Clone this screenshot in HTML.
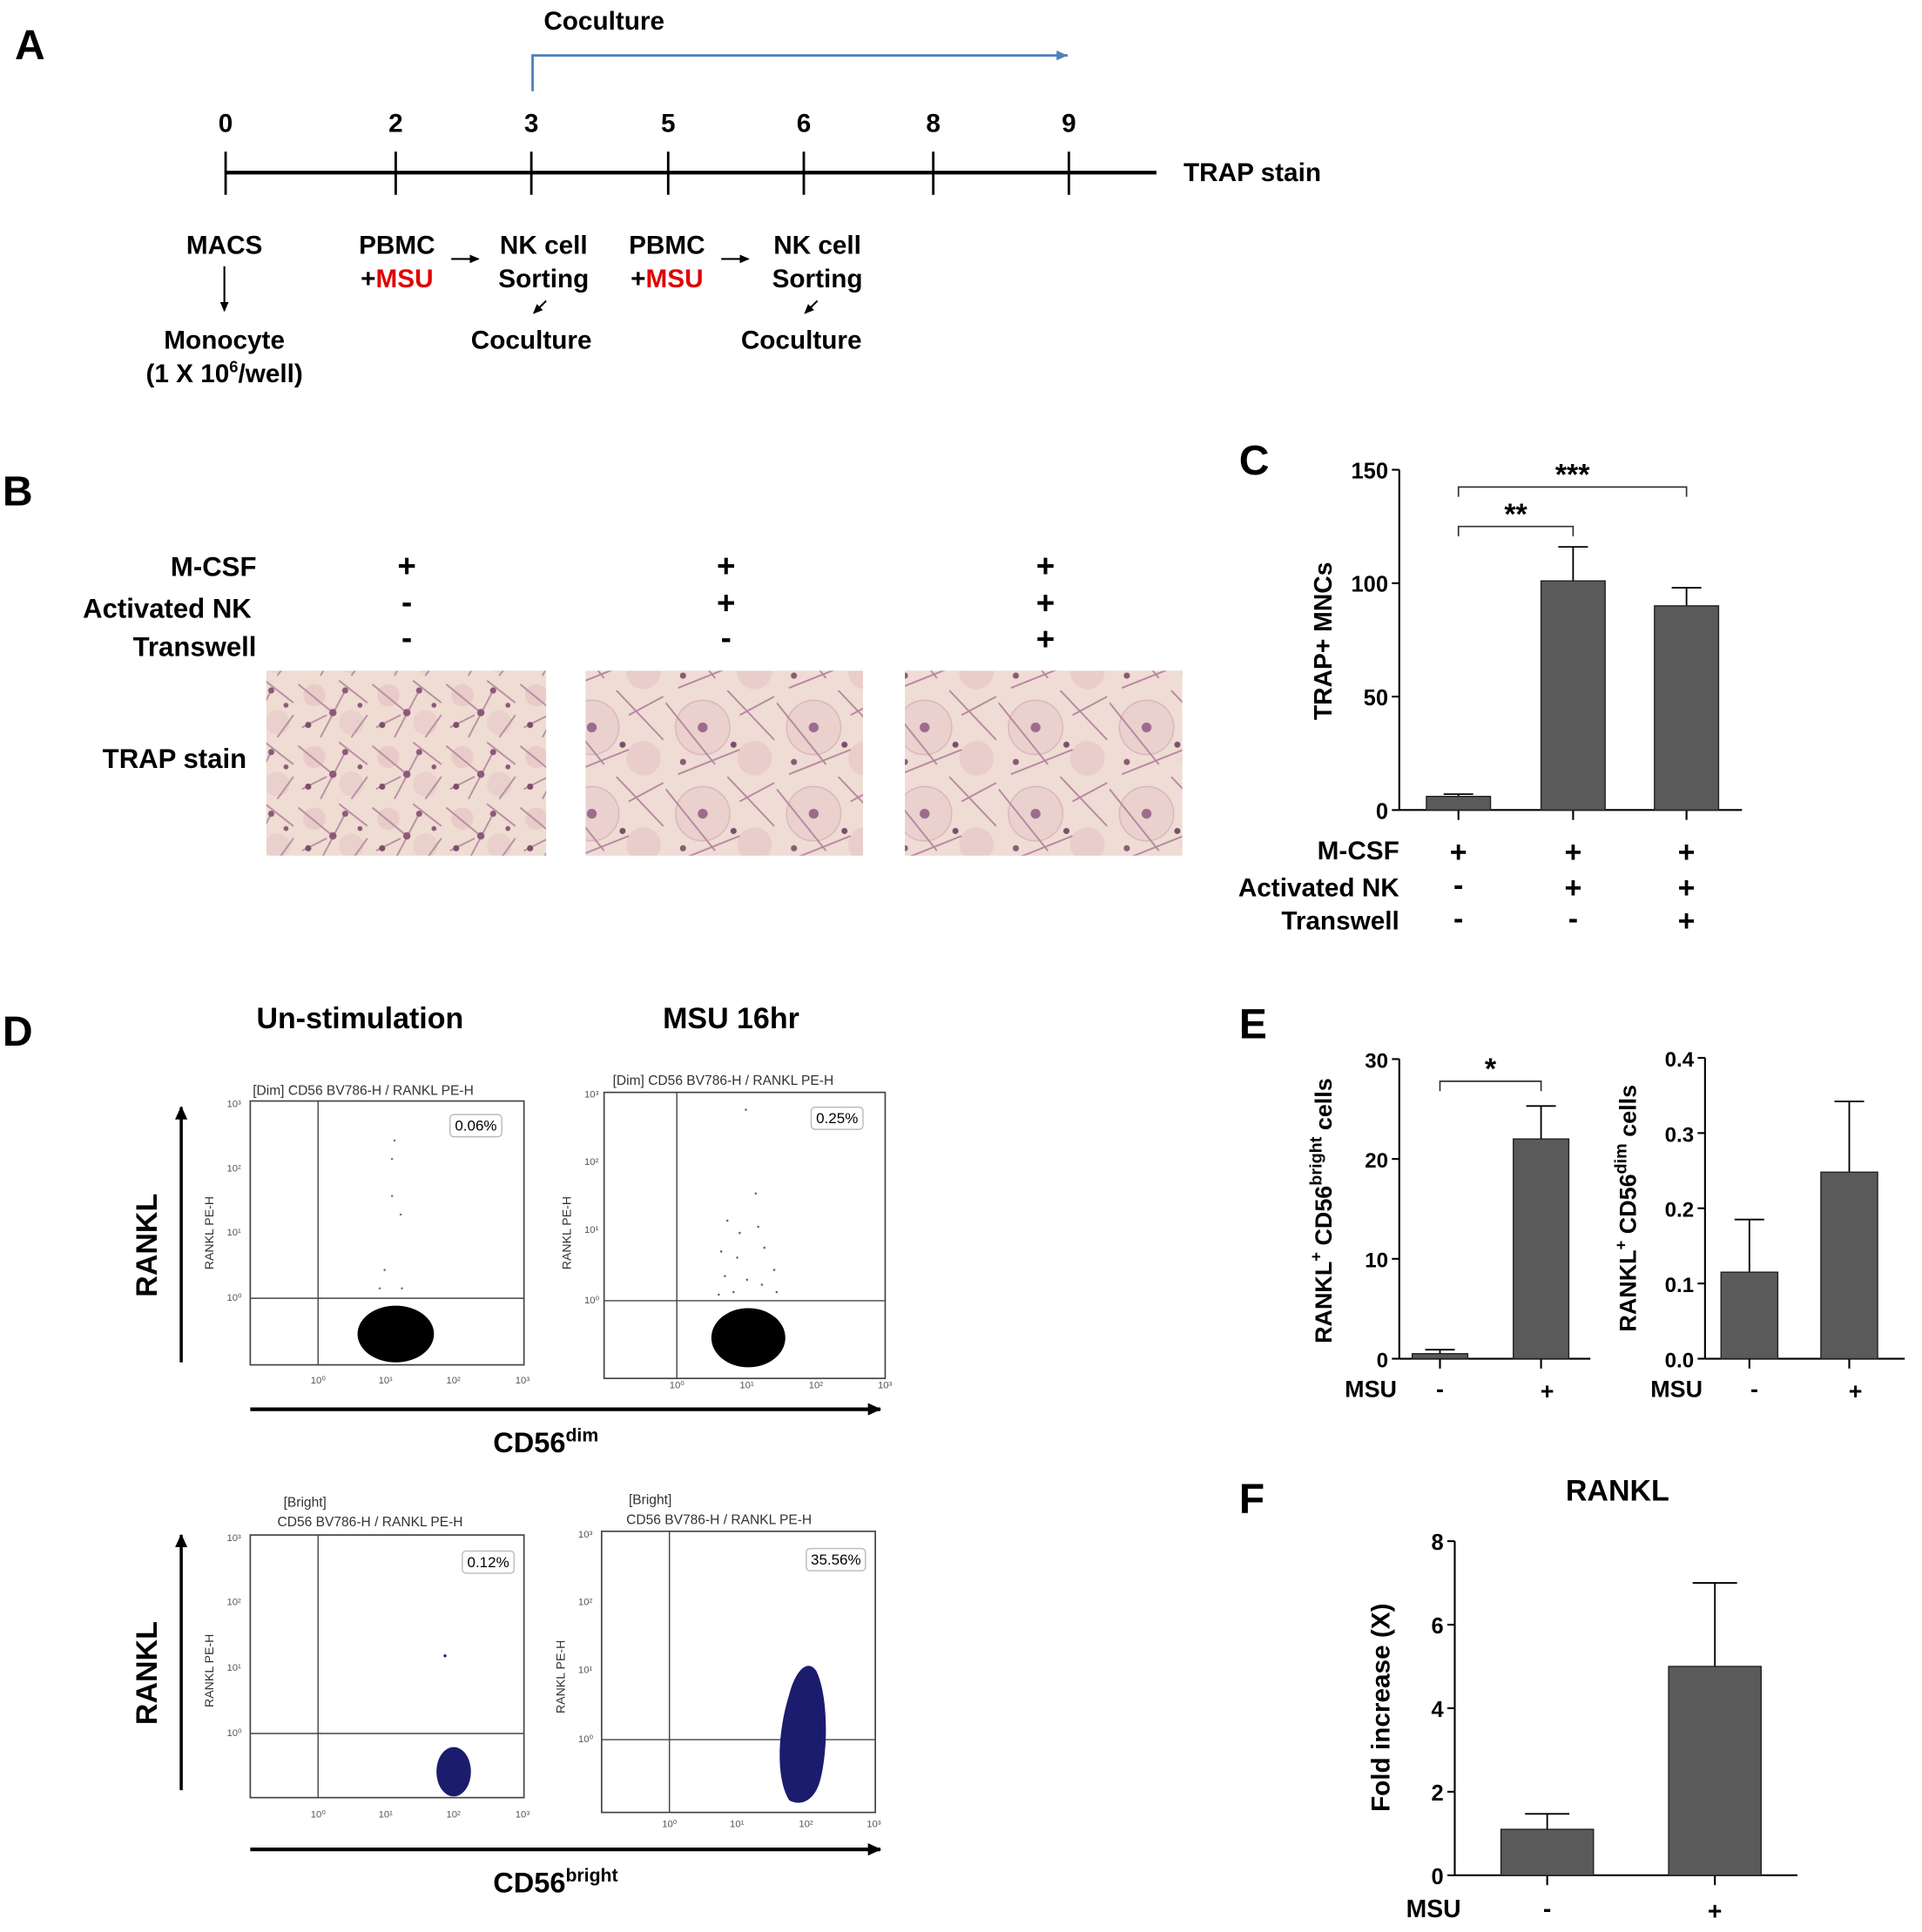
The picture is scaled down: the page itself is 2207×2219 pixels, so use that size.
<!DOCTYPE html>
<html><head><meta charset="utf-8"><style>
html,body{margin:0;padding:0;background:#fff}
svg{display:block}
text{font-family:"Liberation Sans",sans-serif}
.b{font-weight:bold}
</style></head><body>
<svg id="fig" xmlns="http://www.w3.org/2000/svg" width="2207" height="2219" viewBox="0 0 1559 1567" preserveAspectRatio="none">
<defs>
<pattern id="cells" width="60" height="50" patternUnits="userSpaceOnUse">
<rect width="60" height="50" fill="#efdcd2"/>
<circle cx="15" cy="14" r="9" fill="#e9cbc8"/><circle cx="45" cy="36" r="10" fill="#ead0cc"/>
<path d="M2 5 L30 28 M20 48 L40 10 M35 2 L58 20 M5 40 L25 30 M45 48 L58 30" stroke="#b78ba3" stroke-width="1.3" fill="none"/>
<circle cx="30" cy="28" r="3" fill="#8b5a78"/><circle cx="40" cy="10" r="2.5" fill="#8b5a78"/><circle cx="10" cy="38" r="2.5" fill="#7d4e6c"/><circle cx="52" cy="22" r="2" fill="#8b5a78"/>
</pattern>
<pattern id="cells2" width="90" height="70" patternUnits="userSpaceOnUse">
<rect width="90" height="70" fill="#efdcd4"/>
<circle cx="30" cy="30" r="22" fill="#ead1cd" stroke="#d8b6bd" stroke-width="1"/>
<circle cx="72" cy="55" r="14" fill="#e9cdca"/>
<path d="M0 10 L40 60 M50 0 L88 40 M10 68 L60 48 M60 20 L88 5" stroke="#b584a0" stroke-width="1.3" fill="none"/>
<circle cx="30" cy="30" r="4" fill="#9c6b8e"/><circle cx="55" cy="44" r="2.5" fill="#7d4e6c"/><circle cx="14" cy="58" r="2.5" fill="#8b5a78"/>
</pattern>
<marker id="ah" markerUnits="userSpaceOnUse" markerWidth="12" markerHeight="12" refX="10" refY="6" orient="auto"><path d="M0 1 L11 6 L0 11 Z" fill="#000"/></marker>
<marker id="ahs" markerUnits="userSpaceOnUse" markerWidth="8" markerHeight="8" refX="7" refY="4" orient="auto"><path d="M0 0.5 L8 4 L0 7.5 Z" fill="#000"/></marker>
<marker id="ahb" markerUnits="userSpaceOnUse" markerWidth="10" markerHeight="10" refX="9" refY="5" orient="auto"><path d="M0 1 L9 5 L0 9 Z" fill="#4f81bd"/></marker>
</defs>

<g>
<text x="12" y="48" font-size="34" class="b">A</text>
<text x="490" y="24" font-size="21" class="b" text-anchor="middle">Coculture</text>
<path d="M432 74 L432 45 L866 45" stroke="#4f81bd" stroke-width="2" fill="none" marker-end="url(#ahb)"/>
<line x1="183" y1="140" x2="938" y2="140" stroke="#000" stroke-width="3"/>
<g stroke="#000" stroke-width="2">
<line x1="183" y1="123" x2="183" y2="158"/><line x1="321" y1="123" x2="321" y2="158"/><line x1="431" y1="123" x2="431" y2="158"/><line x1="542" y1="123" x2="542" y2="158"/><line x1="652" y1="123" x2="652" y2="158"/><line x1="757" y1="123" x2="757" y2="158"/><line x1="867" y1="123" x2="867" y2="158"/>
</g>
<g font-size="21" class="b" text-anchor="middle">
<text x="183" y="107">0</text><text x="321" y="107">2</text><text x="431" y="107">3</text><text x="542" y="107">5</text><text x="652" y="107">6</text><text x="757" y="107">8</text><text x="867" y="107">9</text>
</g>
<text x="960" y="147" font-size="21" class="b">TRAP stain</text>
<g font-size="21" class="b" text-anchor="middle">
<text x="182" y="206">MACS</text>
<text x="182" y="283">Monocyte</text>
<text x="182" y="310">(1 X 10<tspan font-size="13" dy="-8">6</tspan><tspan dy="8">/well)</tspan></text>
<text x="322" y="206">PBMC</text>
<text x="322" y="233">+<tspan fill="#e00000">MSU</tspan></text>
<text x="441" y="206">NK cell</text><text x="441" y="233">Sorting</text>
<text x="431" y="283">Coculture</text>
<text x="541" y="206">PBMC</text>
<text x="541" y="233">+<tspan fill="#e00000">MSU</tspan></text>
<text x="663" y="206">NK cell</text><text x="663" y="233">Sorting</text>
<text x="650" y="283">Coculture</text>
</g>
<line x1="182" y1="216" x2="182" y2="252" stroke="#000" stroke-width="1.5" marker-end="url(#ahs)"/>
<line x1="366" y1="210" x2="388" y2="210" stroke="#000" stroke-width="1.5" marker-end="url(#ahs)"/>
<line x1="585" y1="210" x2="607" y2="210" stroke="#000" stroke-width="1.5" marker-end="url(#ahs)"/>
<line x1="443" y1="244" x2="433" y2="254" stroke="#000" stroke-width="1.5" marker-end="url(#ahs)"/>
<line x1="663" y1="244" x2="653" y2="254" stroke="#000" stroke-width="1.5" marker-end="url(#ahs)"/>
</g>

<g>
<text x="2" y="410" font-size="34" class="b">B</text>
<g font-size="22" class="b" text-anchor="end">
<text x="208" y="467">M-CSF</text><text x="204" y="501">Activated NK</text><text x="208" y="532">Transwell</text>
</g>
<g font-size="26" class="b" text-anchor="middle">
<text x="330" y="468">+</text><text x="330" y="497">-</text><text x="330" y="526">-</text>
<text x="589" y="468">+</text><text x="589" y="498">+</text><text x="589" y="526">-</text>
<text x="848" y="468">+</text><text x="848" y="498">+</text><text x="848" y="527">+</text>
</g>
<text x="200" y="623" font-size="22" class="b" text-anchor="end">TRAP stain</text>
<rect x="216" y="544" width="227" height="150" fill="url(#cells)"/>
<rect x="475" y="544" width="225" height="150" fill="url(#cells2)"/>
<rect x="734" y="544" width="225" height="150" fill="url(#cells2)"/>
</g>

<g id="panelC">
<text x="1005" y="385" font-size="34" class="b">C</text>
<text transform="translate(1080,520) rotate(-90)" font-size="20" class="b" text-anchor="middle">TRAP+ MNCs</text>
<g font-size="21" class="b" text-anchor="end">
<text x="1135" y="697">M-CSF</text><text x="1135" y="727">Activated NK</text><text x="1135" y="754">Transwell</text>
</g>
<g font-size="24" class="b" text-anchor="middle">
<text x="1183" y="699">+</text><text x="1183" y="726">-</text><text x="1183" y="753">-</text>
<text x="1276" y="699">+</text><text x="1276" y="728">+</text><text x="1276" y="753">-</text>
<text x="1368" y="699">+</text><text x="1368" y="728">+</text><text x="1368" y="755">+</text>
</g>
</g>

<g>
<text x="2" y="848" font-size="34" class="b">D</text>
<text x="292" y="834" font-size="24" class="b" text-anchor="middle">Un-stimulation</text>
<text x="593" y="834" font-size="24" class="b" text-anchor="middle">MSU  16hr</text>

<line x1="147" y1="1105" x2="147" y2="898" stroke="#000" stroke-width="2.5" marker-end="url(#ah)"/>
<text transform="translate(127,1010) rotate(-90)" font-size="24" class="b" text-anchor="middle">RANKL</text>
<line x1="203" y1="1143" x2="714" y2="1143" stroke="#000" stroke-width="3" marker-end="url(#ah)"/>
<text x="400" y="1178" font-size="23" class="b">CD56<tspan font-size="15" dy="-9">dim</tspan></text>

<line x1="147" y1="1452" x2="147" y2="1245" stroke="#000" stroke-width="2.5" marker-end="url(#ah)"/>
<text transform="translate(127,1357) rotate(-90)" font-size="24" class="b" text-anchor="middle">RANKL</text>
<line x1="203" y1="1500" x2="714" y2="1500" stroke="#000" stroke-width="3" marker-end="url(#ah)"/>
<text x="400" y="1535" font-size="23" class="b">CD56<tspan font-size="15" dy="-9">bright</tspan></text>

<g>
<text x="205" y="888" font-size="11" fill="#333">[Dim] CD56 BV786-H / RANKL PE-H</text>
<rect x="203" y="893" width="222" height="214" fill="none" stroke="#444" stroke-width="1.2"/>
<line x1="258" y1="893" x2="258" y2="1107" stroke="#444"/><line x1="203" y1="1053" x2="425" y2="1053" stroke="#444"/>
<text transform="translate(173,1000) rotate(-90)" font-size="10" fill="#333" text-anchor="middle">RANKL PE-H</text>
<g font-size="8" fill="#555"><text x="184" y="898">10³</text><text x="184" y="950">10²</text><text x="184" y="1002">10¹</text><text x="184" y="1055">10⁰</text><text x="252" y="1122">10⁰</text><text x="307" y="1122">10¹</text><text x="362" y="1122">10²</text><text x="418" y="1122">10³</text></g>
<ellipse cx="321" cy="1082" rx="31" ry="23" fill="#000"/>
<rect x="365" y="904" width="42" height="18" rx="3" fill="#fff" stroke="#bbb"/><text x="386" y="917" font-size="12" text-anchor="middle">0.06%</text>
<g fill="#777"><circle cx="320" cy="925" r="0.9"/><circle cx="318" cy="940" r="0.9"/><circle cx="318" cy="970" r="0.9"/><circle cx="325" cy="985" r="0.9"/><circle cx="312" cy="1030" r="0.9"/><circle cx="326" cy="1045" r="0.9"/><circle cx="308" cy="1045" r="0.9"/></g>
</g>
<g>
<text x="497" y="880" font-size="11" fill="#333">[Dim] CD56 BV786-H / RANKL PE-H</text>
<rect x="490" y="886" width="228" height="232" fill="none" stroke="#444" stroke-width="1.2"/>
<line x1="549" y1="886" x2="549" y2="1118" stroke="#444"/><line x1="490" y1="1055" x2="718" y2="1055" stroke="#444"/>
<text transform="translate(463,1000) rotate(-90)" font-size="10" fill="#333" text-anchor="middle">RANKL PE-H</text>
<g font-size="8" fill="#555"><text x="474" y="890">10³</text><text x="474" y="945">10²</text><text x="474" y="1000">10¹</text><text x="474" y="1057">10⁰</text><text x="543" y="1126">10⁰</text><text x="600" y="1126">10¹</text><text x="656" y="1126">10²</text><text x="712" y="1126">10³</text></g>
<ellipse cx="607" cy="1085" rx="30" ry="24" fill="#000"/>
<rect x="658" y="898" width="42" height="18" rx="3" fill="#fff" stroke="#bbb"/><text x="679" y="911" font-size="12" text-anchor="middle">0.25%</text>
<g fill="#666"><circle cx="605" cy="900" r="0.9"/><circle cx="613" cy="968" r="0.9"/><circle cx="590" cy="990" r="0.9"/><circle cx="600" cy="1000" r="0.9"/><circle cx="615" cy="995" r="0.9"/><circle cx="585" cy="1015" r="0.9"/><circle cx="598" cy="1020" r="0.9"/><circle cx="620" cy="1012" r="0.9"/><circle cx="628" cy="1030" r="0.9"/><circle cx="588" cy="1035" r="0.9"/><circle cx="606" cy="1038" r="0.9"/><circle cx="618" cy="1042" r="0.9"/><circle cx="595" cy="1048" r="0.9"/><circle cx="630" cy="1048" r="0.9"/><circle cx="583" cy="1050" r="0.9"/></g>
</g>
<g>
<text x="230" y="1222" font-size="11" fill="#333">[Bright]</text>
<text x="225" y="1238" font-size="11" fill="#333">CD56 BV786-H / RANKL PE-H</text>
<rect x="203" y="1245" width="222" height="213" fill="none" stroke="#444" stroke-width="1.2"/>
<line x1="258" y1="1245" x2="258" y2="1458" stroke="#444"/><line x1="203" y1="1406" x2="425" y2="1406" stroke="#444"/>
<text transform="translate(173,1355) rotate(-90)" font-size="10" fill="#333" text-anchor="middle">RANKL PE-H</text>
<g font-size="8" fill="#555"><text x="184" y="1250">10³</text><text x="184" y="1302">10²</text><text x="184" y="1355">10¹</text><text x="184" y="1408">10⁰</text><text x="252" y="1474">10⁰</text><text x="307" y="1474">10¹</text><text x="362" y="1474">10²</text><text x="418" y="1474">10³</text></g>
<ellipse cx="368" cy="1437" rx="14" ry="20" fill="#1c1c6e"/>
<circle cx="361" cy="1343" r="1.2" fill="#1c1c6e"/>
<rect x="375" y="1258" width="42" height="18" rx="3" fill="#fff" stroke="#bbb"/><text x="396" y="1271" font-size="12" text-anchor="middle">0.12%</text>
</g>
<g>
<text x="510" y="1220" font-size="11" fill="#333">[Bright]</text>
<text x="508" y="1236" font-size="11" fill="#333">CD56 BV786-H / RANKL PE-H</text>
<rect x="488" y="1242" width="222" height="228" fill="none" stroke="#444" stroke-width="1.2"/>
<line x1="543" y1="1242" x2="543" y2="1470" stroke="#444"/><line x1="488" y1="1411" x2="710" y2="1411" stroke="#444"/>
<text transform="translate(458,1360) rotate(-90)" font-size="10" fill="#333" text-anchor="middle">RANKL PE-H</text>
<g font-size="8" fill="#555"><text x="469" y="1247">10³</text><text x="469" y="1302">10²</text><text x="469" y="1357">10¹</text><text x="469" y="1413">10⁰</text><text x="537" y="1482">10⁰</text><text x="592" y="1482">10¹</text><text x="648" y="1482">10²</text><text x="703" y="1482">10³</text></g>
<path d="M640 1460 C628 1440 632 1400 640 1375 C645 1355 655 1345 662 1355 C672 1375 672 1420 665 1445 C660 1462 648 1465 640 1460 Z" fill="#1c1c6e"/>
<rect x="654" y="1256" width="48" height="18" rx="3" fill="#fff" stroke="#bbb"/><text x="678" y="1269" font-size="12" text-anchor="middle">35.56%</text>
</g>
</g>

<g>
<text x="1005" y="842" font-size="34" class="b">E</text>
<text transform="translate(1080,982) rotate(-90)" font-size="19" class="b" text-anchor="middle">RANKL<tspan font-size="13" dy="-8">+</tspan><tspan dy="8"> CD56</tspan><tspan font-size="14" dy="-8">bright</tspan><tspan dy="8"> cells</tspan></text>
<text transform="translate(1327,980) rotate(-90)" font-size="19" class="b" text-anchor="middle">RANKL<tspan font-size="13" dy="-8">+</tspan><tspan dy="8"> CD56</tspan><tspan font-size="14" dy="-8">dim</tspan><tspan dy="8"> cells</tspan></text>
<g font-size="19" class="b">
<text x="1133" y="1133" text-anchor="end">MSU</text><text x="1168" y="1133" text-anchor="middle">-</text><text x="1255" y="1135" text-anchor="middle">+</text>
<text x="1381" y="1133" text-anchor="end">MSU</text><text x="1423" y="1133" text-anchor="middle">-</text><text x="1505" y="1135" text-anchor="middle">+</text>
</g>
</g>
<g>
<text x="1005" y="1227" font-size="34" class="b">F</text>
<text x="1312" y="1217" font-size="24" class="b" text-anchor="middle">RANKL</text>
<text transform="translate(1127,1385) rotate(-90)" font-size="21" class="b" text-anchor="middle">Fold increase (X)</text>
<g font-size="20" class="b">
<text x="1185" y="1555" text-anchor="end">MSU</text><text x="1255" y="1555" text-anchor="middle">-</text><text x="1391" y="1557" text-anchor="middle">+</text>
</g>
</g>
<g id="charts"></g>
</svg>
<script>
// Panel C data
const cCategories = ["M-CSF", "M-CSF + NK", "M-CSF + NK + Transwell"];
const cValues = [6, 101, 90];
const cErrors = [7, 116, 98];
const cTicks = [0, 50, 100, 150];
// Panel E1 data
const e1Categories = ["-", "+"];
const e1Values = [0.5, 22];
const e1Errors = [0.9, 25.3];
const e1Ticks = [0, 10, 20, 30];
// Panel E2 data
const e2Categories = ["-", "+"];
const e2Values = [0.115, 0.248];
const e2Errors = [0.185, 0.342];
const e2Ticks = ["0.0", "0.1", "0.2", "0.3", "0.4"];
// Panel F data
const fCategories = ["-", "+"];
const fValues = [1.1, 5.0];
const fErrors = [1.47, 7.0];
const fTicks = [0, 2, 4, 6, 8];

const NS = "http://www.w3.org/2000/svg";
const root = document.getElementById("charts");
function mk(tag, attrs, parent) {
  const el = document.createElementNS(NS, tag);
  for (const k in attrs) el.setAttribute(k, attrs[k]);
  (parent || root).appendChild(el);
  return el;
}
function drawChart(cfg, cats, vals, errs, ticks) {
  const g = mk("g", {});
  
  
  const ymax = parseFloat(ticks[ticks.length - 1]);
  const y = v => cfg.y0 - (v / ymax) * (cfg.y0 - cfg.y1);
  const x = i => cfg.xs[i];
  const ax = mk("line", {x1: cfg.x0, y1: cfg.y1, x2: cfg.x0, y2: cfg.y0, stroke: "#000", "stroke-width": 1.5}, g);
  
  
  const xa = mk("line", {x1: cfg.x0, y1: cfg.y0, x2: cfg.xEnd, y2: cfg.y0, stroke: "#000", "stroke-width": 1.5}, g);
  
  
  ticks.forEach(t => {
    const v = parseFloat(t);
    mk("line", {x1: cfg.x0 - 6, y1: y(v), x2: cfg.x0, y2: y(v), stroke: "#000", "stroke-width": 1.5}, g);
    const tx = mk("text", {x: cfg.x0 - 9, y: y(v) + 7, "font-size": cfg.fs, "text-anchor": "end", "font-weight": "bold"}, g);
    tx.textContent = t;
    
    
  });
  cats.forEach((c, i) => {
    mk("line", {x1: x(i), y1: cfg.y0, x2: x(i), y2: cfg.y0 + 8, stroke: "#000", "stroke-width": 1.5}, g);
    const ey = y(errs[i]);
    mk("line", {x1: x(i), y1: y(vals[i]), x2: x(i), y2: ey, stroke: "#000", "stroke-width": 1.3}, g);
    mk("line", {x1: x(i) - cfg.capW, y1: ey, x2: x(i) + cfg.capW, y2: ey, stroke: "#000", "stroke-width": 1.3}, g);
    const bar = mk("rect", {x: x(i) - cfg.bw / 2, y: y(vals[i]), width: cfg.bw, height: cfg.y0 - y(vals[i]), fill: "#5a5a5a", stroke: "#222", "stroke-width": 1}, g);
    
    
  });
  (cfg.sig || []).forEach(s => {
    const p = mk("path", {d: `M${x(s.a)} ${s.y + 8} L${x(s.a)} ${s.y} L${x(s.b)} ${s.y} L${x(s.b)} ${s.y + 8}`, stroke: "#333", fill: "none", "stroke-width": 1.2}, g);
    
    
    const t = mk("text", {x: (x(s.a) + x(s.b)) / 2, y: s.y - 2, "font-size": 24, "text-anchor": "middle", "font-weight": "bold"}, g);
    t.textContent = s.t;
    
    
  });
}
drawChart({name: "chart-c-trap-mncs", x0: 1135, xEnd: 1413, y0: 657, y1: 381, xs: [1183, 1276, 1368], bw: 52, capW: 12, fs: 18,
  sig: [{a: 0, b: 1, y: 427, t: "**"}, {a: 0, b: 2, y: 395, t: "***"}]}, cCategories, cValues, cErrors, cTicks);
drawChart({name: "chart-e-bright", x0: 1135, xEnd: 1290, y0: 1102, y1: 859, xs: [1168, 1250], bw: 45, capW: 12, fs: 17,
  sig: [{a: 0, b: 1, y: 877, t: "*"}]}, e1Categories, e1Values, e1Errors, e1Ticks);
drawChart({name: "chart-e-dim", x0: 1383, xEnd: 1545, y0: 1102, y1: 858, xs: [1419, 1500], bw: 46, capW: 12, fs: 17}, e2Categories, e2Values, e2Errors, e2Ticks);
drawChart({name: "chart-f-rankl-fold", x0: 1180, xEnd: 1458, y0: 1521, y1: 1250, xs: [1255, 1391], bw: 75, capW: 18, fs: 18}, fCategories, fValues, fErrors, fTicks);
</script>
</body></html>
